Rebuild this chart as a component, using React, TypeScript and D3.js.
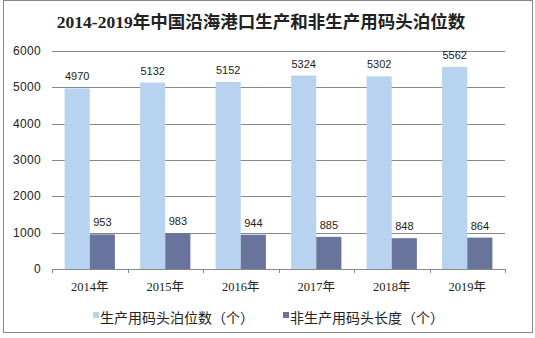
import React from "react";
import * as d3 from "d3";

const categories = ["2014年", "2015年", "2016年", "2017年", "2018年", "2019年"];
const productionBerths = [4970, 5132, 5152, 5324, 5302, 5562];
const nonProductionBerths = [953, 983, 944, 885, 848, 864];
const yTicks = [0, 1000, 2000, 3000, 4000, 5000, 6000];
const seriesNames = ["生产用码头泊位数（个）", "非生产用码头长度（个）"];
const title = "2014-2019年中国沿海港口生产和非生产用码头泊位数";

const W = 535;
const H = 338;
const LIGHT = "#B8D3EF";
const DARK = "#68749B";
const CJK = "'Noto Sans CJK SC', sans-serif";
const SERIF = "'Liberation Serif', 'Noto Sans CJK SC', serif";
const SANS = "'Liberation Sans', Arial, sans-serif";

export default function App() {
  const left = 52;
  const right = 505;
  const top = 51;
  const bottom = 269;

  const x = d3.scaleBand<string>().domain(categories).range([left, right]).paddingInner(0).paddingOuter(0);
  const y = d3.scaleLinear().domain([0, 6000]).range([bottom, top]);
  const bw = x.bandwidth();
  const barW = bw * 0.333;
  const offset = (bw - 2 * barW) / 2;

  return (
    <svg width={W} height={H} style={{ position: "absolute", left: 0, top: 0 }}>
      <rect x={0} y={0} width={W} height={H} fill="#fff" />
      <rect x={3.5} y={0.5} width={529} height={332} fill="none" stroke="#888" strokeWidth={1} />
      <text x={261} y={28} textAnchor="middle" fontFamily={SERIF} fontWeight="bold" fontSize={17.5} fill="#222">
        {title}
      </text>
      {yTicks.map((t) => (
        <g key={t}>
          {t > 0 && (
            <line x1={left} x2={right} y1={Math.round(y(t)) + 0.5} y2={Math.round(y(t)) + 0.5} stroke="#888" strokeWidth={1} />
          )}
          <text x={41} y={y(t) + 4} textAnchor="end" fontFamily={SANS} fontSize={12} letterSpacing={0.3} fill="#222">
            {t}
          </text>
        </g>
      ))}
      {categories.map((c, i) => {
        const x0 = x(c)!;
        const h1 = productionBerths[i];
        const h2 = nonProductionBerths[i];
        return (
          <g key={c}>
            <rect x={x0 + offset} y={y(h1)} width={barW} height={bottom - y(h1)} fill={LIGHT} />
            <rect x={x0 + offset + barW} y={y(h2)} width={barW} height={bottom - y(h2)} fill={DARK} />
            <text x={x0 + offset + barW / 2} y={y(h1) - 8} textAnchor="middle" fontFamily={SANS} fontSize={11} fill="#222">
              {h1}
            </text>
            <text x={x0 + offset + barW * 1.5} y={y(h2) - 8} textAnchor="middle" fontFamily={SANS} fontSize={11} fill="#222">
              {h2}
            </text>
            <text x={x0 + bw / 2} y={291} textAnchor="middle" fontFamily={SERIF} fontSize={12.5} fill="#222">
              {c}
            </text>
          </g>
        );
      })}
      <line x1={left} x2={right} y1={bottom + 0.5} y2={bottom + 0.5} stroke="#888" strokeWidth={1} />
      {[...categories.map((c) => x(c)!), right].map((tx, i) => (
        <line key={i} x1={Math.round(tx) + 0.5} x2={Math.round(tx) + 0.5} y1={bottom} y2={bottom + 4} stroke="#888" strokeWidth={1} />
      ))}
      <rect x={93} y={312} width={6} height={6} fill={LIGHT} />
      <text x={100} y={323} fontFamily={CJK} fontSize={14} fill="#222">
        {seriesNames[0]}
      </text>
      <rect x={283} y={312} width={6} height={6} fill={DARK} />
      <text x={290} y={323} fontFamily={CJK} fontSize={14} fill="#222">
        {seriesNames[1]}
      </text>
    </svg>
  );
}
